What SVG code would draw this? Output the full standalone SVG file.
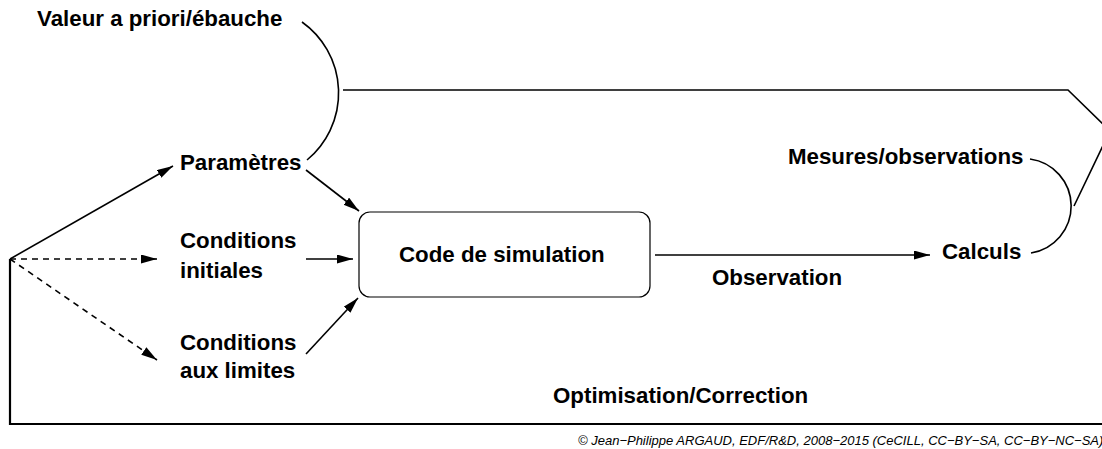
<svg xmlns="http://www.w3.org/2000/svg" width="1102" height="449" viewBox="0 0 1102 449">
<defs>
<marker id="ah" markerUnits="userSpaceOnUse" markerWidth="17" markerHeight="10" refX="16" refY="4.5" orient="auto">
<path d="M0,0 L16,4.5 L0,9 Z" fill="#000"/>
</marker>
<style>
.lbl{font-family:"Liberation Sans",Arial,sans-serif;font-weight:bold;font-size:22.3px;fill:#000}
.ln{fill:none;stroke:#000;stroke-width:1.6}
.ar{fill:none;stroke:#000;stroke-width:1.6;marker-end:url(#ah)}
.da{fill:none;stroke:#000;stroke-width:1.6;stroke-dasharray:6,5;marker-end:url(#ah)}
.cp{font-family:"Liberation Sans",Arial,sans-serif;font-style:italic;font-size:13px;fill:#000}
</style>
</defs>
<rect width="1102" height="449" fill="#fff"/>
<g id="connectors">
<path class="ar" d="M10,259 L173,166"/>
<path class="da" d="M10,259 L157,259"/>
<path class="da" d="M10,259 L157,360"/>
<path class="ar" d="M306,170 L359,211"/>
<path class="ar" d="M306,259 L353,259"/>
<path class="ar" d="M306,354 L358,298"/>
<path class="ar" d="M655,255 L930,255"/>
<path class="ln" d="M302,22 A87,87 0 0 1 307,160"/>
<path class="ln" d="M343,90 L1068,90 L1110,131 L1074,206"/>
<path class="ln" d="M1030,159 A47.5,47.5 0 0 1 1031,253"/>
<path class="ln" style="stroke-width:2.2" d="M10,259 L10,424 L1110,424"/>
</g>
<g id="node-code">
<rect x="359" y="212" width="291" height="85" rx="11" ry="11" fill="#fff" stroke="#000" stroke-width="1.2"/>
<text class="lbl" x="399" y="262">Code de simulation</text>
</g>
<g id="node-valeur"><text class="lbl" x="37" y="26">Valeur a priori/ébauche</text></g>
<g id="node-parametres"><text class="lbl" x="180" y="170">Paramètres</text></g>
<g id="node-ci"><text class="lbl" x="180" y="248">Conditions</text><text class="lbl" x="180" y="278">initiales</text></g>
<g id="node-cl"><text class="lbl" x="180" y="350">Conditions</text><text class="lbl" x="180" y="378">aux limites</text></g>
<g id="node-mesures"><text class="lbl" x="788" y="164">Mesures/observations</text></g>
<g id="node-calculs"><text class="lbl" x="942" y="259">Calculs</text></g>
<g id="label-observation"><text class="lbl" x="712" y="285">Observation</text></g>
<g id="label-optim"><text class="lbl" x="553" y="403">Optimisation/Correction</text></g>
<text class="cp" x="578" y="445">© Jean−Philippe ARGAUD, EDF/R&amp;D, 2008−2015 (CeCILL, CC−BY−SA, CC−BY−NC−SA)</text>
</svg>
